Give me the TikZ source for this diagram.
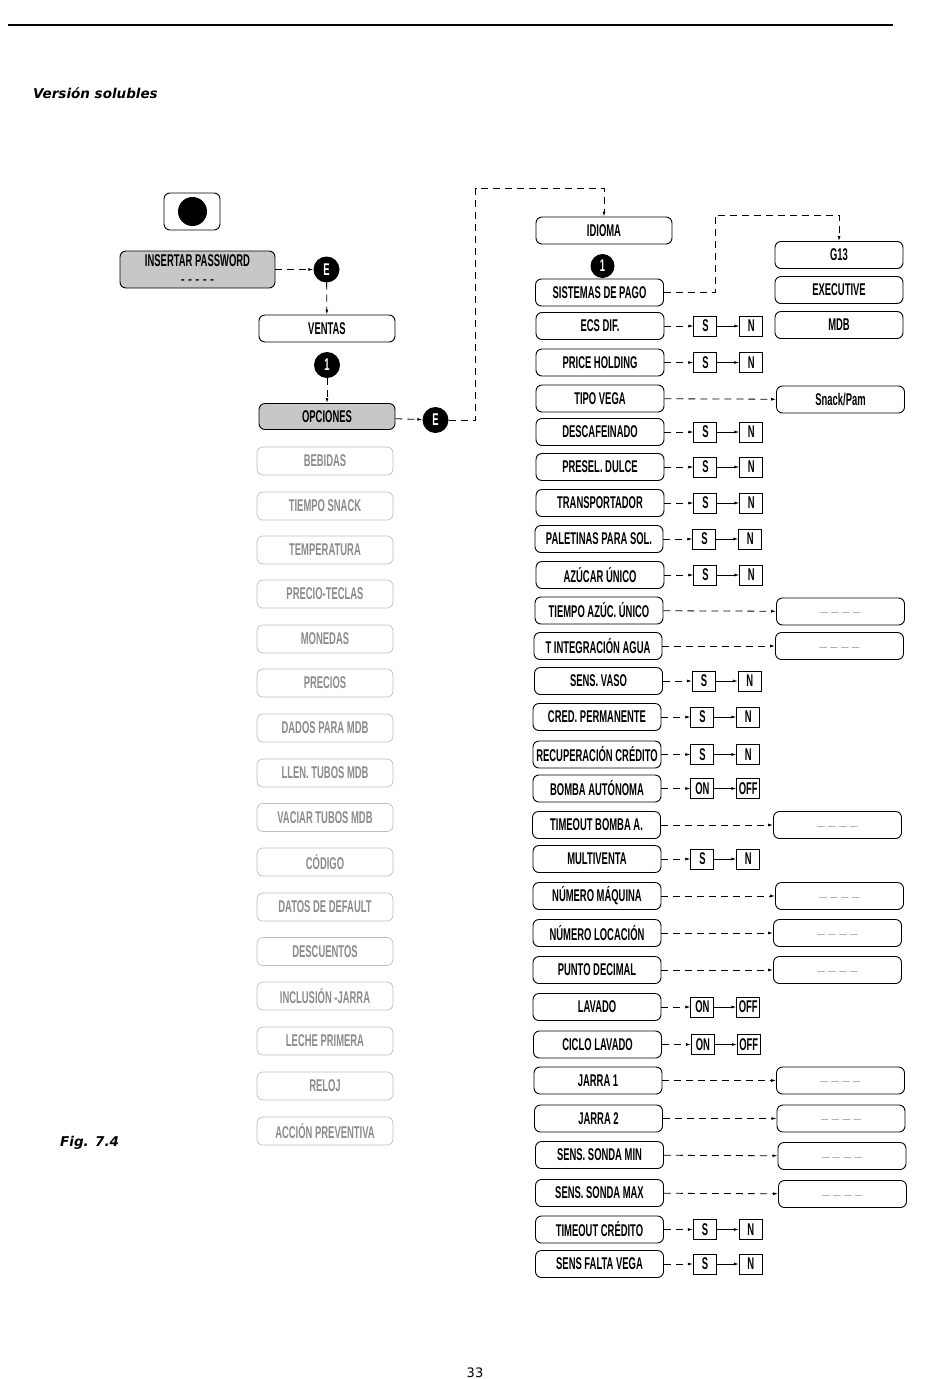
\documentclass[tikz,border=0pt]{standalone}
\usepackage{fontspec}
\usepackage{xcolor}
\usepackage{tikz}
\usetikzlibrary{arrows.meta,positioning}
\newfontfamily\cond{Liberation Sans}[FakeStretch=0.555]
\newfontfamily\plain{Liberation Sans}
\newfontfamily\verd{DejaVu Sans}
\newcommand{\menu}{\cond\bfseries\fontsize{17}{18}\selectfont}
\newcommand{\blank}{\raisebox{-2pt}{\plain\bfseries\fontsize{13}{15}\selectfont\_ \_ \_ \_}}

\begin{document}
\begin{tikzpicture}[x=1pt,y=-1pt,
  node distance=29pt,
  box/.style={draw,line width=0.9pt,rounded corners=6pt,minimum width=128pt,minimum height=27pt,inner sep=1pt,font=\menu},
  sel/.style={box,fill=black!22,minimum width=136pt},
  off/.style={box,draw=black!25,line width=0.7pt,text=black!45,minimum width=136pt,minimum height=28pt},
  val/.style={box,text=black!60},
  yn/.style={draw,line width=0.9pt,minimum width=23pt,minimum height=20pt,inner sep=0pt,font=\menu},
  key/.style={circle,fill=black,text=white,minimum size=26pt,inner sep=0pt,font=\menu},
  dsh/.style={line width=0.8pt,dash pattern=on 7pt off 5pt,-{Latex[length=5pt,width=3pt]}},
  arr/.style={line width=0.8pt,-{Latex[length=5pt,width=3pt]}}
]
\path[use as bounding box,fill=white] (0,0) rectangle (950,1379);
\draw[line width=1.2pt] (8,25) -- (893,25);
\node[anchor=west,inner sep=0pt,font=\verd\bfseries\itshape\fontsize{13.5}{15}\selectfont] (title) at (33,93) {Versión solubles};
\node[anchor=west,inner sep=0pt,font=\verd\bfseries\itshape\fontsize{13.5}{15}\selectfont] (fig) at (60,1143) {Fig. 7.4};
\node[anchor=south,inner sep=0pt,font=\verd\fontsize{13}{15}\selectfont] (page) at (475,1378) {33};

\node[box,minimum width=56pt,minimum height=37pt] (start) at (192,211.5) {};
\node[circle,fill=black,minimum size=29pt,inner sep=0pt] (dot) at (192.5,211.5) {};
\node[sel,minimum width=155pt,minimum height=37pt,align=center,inner ysep=4pt] (pw) at (197.5,269.5) {\raisebox{-3pt}{INSERTAR PASSWORD}\\[2pt]{\plain\fontsize{12}{14}\selectfont - - - - -}};
\node[key] (e1) at (326.5,269.5) {E};
\node[box,minimum width=136pt] (ventas) at (327,328.5) {VENTAS};
\node[key] (k1) at (327,365) {1};
\node[sel,minimum height=26pt] (opc) at (327,416.5) {OPCIONES};
\node[key] (e2) at (435.5,420) {E};

\node[off] (beb) at (325,461) {BEBIDAS};
\node[off] (snack) at (325,506) {TIEMPO SNACK};
\node[off] (temp) at (325,550) {TEMPERATURA};
\node[off] (teclas) at (325,594) {PRECIO-TECLAS};
\node[off] (mon) at (325,639) {MONEDAS};
\node[off] (prec) at (325,683) {PRECIOS};
\node[off] (dmdb) at (325,728) {DADOS PARA MDB};
\node[off] (llen) at (325,773) {LLEN. TUBOS MDB};
\node[off] (vaciar) at (325,817.5) {VACIAR TUBOS MDB};
\node[off] (cod) at (325,862) {CÓDIGO};
\node[off] (deflt) at (325,907) {DATOS DE DEFAULT};
\node[off] (desc) at (325,951.5) {DESCUENTOS};
\node[off] (incl) at (325,996) {INCLUSIÓN -JARRA};
\node[off] (leche) at (325,1041) {LECHE PRIMERA};
\node[off] (reloj) at (325,1086) {RELOJ};
\node[off] (accion) at (325,1131) {ACCIÓN PREVENTIVA};

\node[box,minimum width=136pt] (idioma) at (604,230.5) {IDIOMA};
\node[key,minimum size=24pt] (k2) at (602.5,266) {1};
\node[box] (pago) at (599.5,292.5) {SISTEMAS DE PAGO};
\node[box] (ecs) at (600,326) {ECS DIF.};
\node[box] (price) at (600,362.5) {PRICE HOLDING};
\node[box] (vega) at (600,398.5) {TIPO VEGA};
\node[box] (descaf) at (600,432) {DESCAFEINADO};
\node[box] (dulce) at (600,467) {PRESEL. DULCE};
\node[box] (transp) at (600,503) {TRANSPORTADOR};
\node[box] (palet) at (599,539) {PALETINAS PARA SOL.};
\node[box] (azucar) at (600,575) {AZÚCAR ÚNICO};
\node[box] (tazuc) at (599,610.5) {TIEMPO AZÚC. ÚNICO};
\node[box] (tinteg) at (598,646) {T INTEGRACIÓN AGUA};
\node[box] (vaso) at (598.5,681) {SENS. VASO};
\node[box] (cred) at (597,717) {CRED. PERMANENTE};
\node[box] (recup) at (597,754.5) {RECUPERACIÓN CRÉDITO};
\node[box] (bomba) at (597,788.5) {BOMBA AUTÓNOMA};
\node[box] (tbomba) at (596.5,825) {TIMEOUT BOMBA A.};
\node[box] (multi) at (597,859) {MULTIVENTA};
\node[box] (maq) at (597,896) {NÚMERO MÁQUINA};
\node[box] (loc) at (597,933) {NÚMERO LOCACIÓN};
\node[box] (punto) at (597,970) {PUNTO DECIMAL};
\node[box] (lavado) at (597,1007) {LAVADO};
\node[box] (ciclo) at (597.5,1044.5) {CICLO LAVADO};
\node[box] (jarra1) at (598,1080.5) {JARRA 1};
\node[box] (jarra2) at (598.5,1118.5) {JARRA 2};
\node[box] (smin) at (599.5,1155) {SENS. SONDA MIN};
\node[box] (smax) at (599.5,1193) {SENS. SONDA MAX};
\node[box] (tcred) at (599.5,1229.5) {TIMEOUT CRÉDITO};
\node[box] (falta) at (599.5,1264) {SENS FALTA VEGA};

\node[box] (g13) at (839,255) {G13};
\node[box] (exec) at (839,290) {EXECUTIVE};
\node[box] (mdb) at (839,325) {MDB};
\node[box] (snackpam) at (840.5,399.5) {Snack/Pam};
\node[val] (tazucV) at (840.5,611.5) {\blank};
\node[val] (tintegV) at (839.5,646) {\blank};
\node[val] (tbombaV) at (837.5,825) {\blank};
\node[val] (maqV) at (839.5,896) {\blank};
\node[val] (locV) at (837.5,933) {\blank};
\node[val] (puntoV) at (837.5,970) {\blank};
\node[val] (jarra1V) at (840.5,1080.5) {\blank};
\node[val] (jarra2V) at (841,1118.5) {\blank};
\node[val] (sminV) at (842,1156) {\blank};
\node[val] (smaxV) at (842.5,1194) {\blank};

\node[yn,right=of ecs] (ecsS) {S};
\node[yn,right=22pt of ecsS] (ecsN) {N};
\node[yn,right=of price] (priceS) {S};
\node[yn,right=22pt of priceS] (priceN) {N};
\node[yn,right=of descaf] (descafS) {S};
\node[yn,right=22pt of descafS] (descafN) {N};
\node[yn,right=of dulce] (dulceS) {S};
\node[yn,right=22pt of dulceS] (dulceN) {N};
\node[yn,right=of transp] (transpS) {S};
\node[yn,right=22pt of transpS] (transpN) {N};
\node[yn,right=of palet] (paletS) {S};
\node[yn,right=22pt of paletS] (paletN) {N};
\node[yn,right=of azucar] (azucarS) {S};
\node[yn,right=22pt of azucarS] (azucarN) {N};
\node[yn,right=of vaso] (vasoS) {S};
\node[yn,right=22pt of vasoS] (vasoN) {N};
\node[yn,right=of cred] (credS) {S};
\node[yn,right=22pt of credS] (credN) {N};
\node[yn,right=of recup] (recupS) {S};
\node[yn,right=22pt of recupS] (recupN) {N};
\node[yn,right=of bomba] (bombaS) {ON};
\node[yn,right=22pt of bombaS] (bombaN) {OFF};
\node[yn,right=of multi] (multiS) {S};
\node[yn,right=22pt of multiS] (multiN) {N};
\node[yn,right=of lavado] (lavadoS) {ON};
\node[yn,right=22pt of lavadoS] (lavadoN) {OFF};
\node[yn,right=of ciclo] (cicloS) {ON};
\node[yn,right=22pt of cicloS] (cicloN) {OFF};
\node[yn,right=of tcred] (tcredS) {S};
\node[yn,right=22pt of tcredS] (tcredN) {N};
\node[yn,right=of falta] (faltaS) {S};
\node[yn,right=22pt of faltaS] (faltaN) {N};

\coordinate (up) at (475.5,188);
\coordinate (pay) at (715,215);
\draw[dsh] (pw) -- (e1);
\draw[dsh] (e1) -- (ventas);
\draw[dsh] (k1) -- (opc);
\draw[dsh] (opc) -- (e2);
\draw[dsh] (e2) -| (up) -| (idioma);
\draw[dsh] (pago) -| (pay) -| (g13);
\draw[dsh] (vega) -- (snackpam);
\draw[dsh] (tazuc) -- (tazucV);
\draw[dsh] (tinteg) -- (tintegV);
\draw[dsh] (tbomba) -- (tbombaV);
\draw[dsh] (maq) -- (maqV);
\draw[dsh] (loc) -- (locV);
\draw[dsh] (punto) -- (puntoV);
\draw[dsh] (jarra1) -- (jarra1V);
\draw[dsh] (jarra2) -- (jarra2V);
\draw[dsh] (smin) -- (sminV);
\draw[dsh] (smax) -- (smaxV);
\draw[dsh] (ecs) -- (ecsS);
\draw[arr] (ecsS) -- (ecsN);
\draw[dsh] (price) -- (priceS);
\draw[arr] (priceS) -- (priceN);
\draw[dsh] (descaf) -- (descafS);
\draw[arr] (descafS) -- (descafN);
\draw[dsh] (dulce) -- (dulceS);
\draw[arr] (dulceS) -- (dulceN);
\draw[dsh] (transp) -- (transpS);
\draw[arr] (transpS) -- (transpN);
\draw[dsh] (palet) -- (paletS);
\draw[arr] (paletS) -- (paletN);
\draw[dsh] (azucar) -- (azucarS);
\draw[arr] (azucarS) -- (azucarN);
\draw[dsh] (vaso) -- (vasoS);
\draw[arr] (vasoS) -- (vasoN);
\draw[dsh] (cred) -- (credS);
\draw[arr] (credS) -- (credN);
\draw[dsh] (recup) -- (recupS);
\draw[arr] (recupS) -- (recupN);
\draw[dsh] (bomba) -- (bombaS);
\draw[arr] (bombaS) -- (bombaN);
\draw[dsh] (multi) -- (multiS);
\draw[arr] (multiS) -- (multiN);
\draw[dsh] (lavado) -- (lavadoS);
\draw[arr] (lavadoS) -- (lavadoN);
\draw[dsh] (ciclo) -- (cicloS);
\draw[arr] (cicloS) -- (cicloN);
\draw[dsh] (tcred) -- (tcredS);
\draw[arr] (tcredS) -- (tcredN);
\draw[dsh] (falta) -- (faltaS);
\draw[arr] (faltaS) -- (faltaN);
\end{tikzpicture}
\end{document}
